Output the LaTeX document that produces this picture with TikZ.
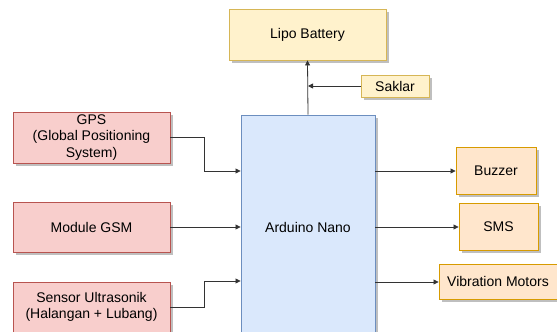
\documentclass[tikz,border=0pt]{standalone}
\usepackage{fontspec}
\setmainfont{Liberation Sans}
\usetikzlibrary{arrows.meta,shadows}
\definecolor{pinkfill}{HTML}{F8CECC}
\definecolor{pinkline}{HTML}{B85450}
\definecolor{orfill}{HTML}{FFE6CC}
\definecolor{orline}{HTML}{D79B00}
\definecolor{yelfill}{HTML}{FFF2CC}
\definecolor{yelline}{HTML}{D6B656}
\definecolor{bluefill}{HTML}{DAE8FC}
\definecolor{blueline}{HTML}{6C8EBF}
\tikzset{
  x=1pt,y=-1pt,
  box/.style={draw, line width=0.9pt, inner sep=0pt, align=center, font=\fontsize{14}{16.5}\selectfont,
    drop shadow={shadow xshift=2.5pt, shadow yshift=-2.5pt, opacity=0.25, fill=black}},
  inbox/.style={box, fill=pinkfill, draw=pinkline},
  outbox/.style={box, fill=orfill, draw=orline},
  yelbox/.style={box, fill=yelfill, draw=yelline},
  mcubox/.style={box, fill=bluefill, draw=blueline},
  conn/.style={draw=black!80, line width=0.8pt, -{Triangle[length=5pt,width=5pt]}},
}
\begin{document}
\begin{tikzpicture}
\useasboundingbox (0,0) rectangle (557,332);
\clip (0,0) rectangle (557,332);
\node[yelbox, minimum width=157pt, minimum height=51pt] (bat) at (307.5,34.5) {Lipo Battery};
\node[yelbox, minimum width=68pt, minimum height=22pt] (sak) at (395,86) {Saklar};
\node[mcubox, minimum width=134pt, minimum height=240pt, text depth=0pt] (ard) at (308,235) {};
\node[font=\fontsize{14}{16.5}\selectfont] (ardlbl) at (308,227) {Arduino Nano};
\node[inbox, minimum width=157pt, minimum height=51pt] (gps) at (91.5,137.5) {GPS\\(Global Positioning\\System)};
\node[inbox, minimum width=157pt, minimum height=50pt] (gsm) at (91.5,227) {Module GSM};
\node[inbox, minimum width=157pt, minimum height=56pt] (ultra) at (91.5,310) {};
\node[font=\fontsize{14}{16.5}\selectfont, align=center] (ultralbl) at (91.5,307) {Sensor Ultrasonik\\(Halangan + Lubang)};
\node[outbox, minimum width=80pt, minimum height=47pt] (buz) at (496,170.5) {Buzzer};
\node[outbox, minimum width=79pt, minimum height=47pt] (sms) at (498.5,226.5) {SMS};
\node[outbox, minimum width=118pt, minimum height=35pt] (vib) at (498,281.5) {Vibration Motors};
\coordinate (j) at (308,86);
\draw[conn] (ard.north) -- (bat.south);
\draw[conn] (sak.west) -- (j);
\draw[conn] (gps.east) -- (204,137.5) -- (204,171) -- (ard.west |- 0,171);
\draw[conn] (gsm.east) -- (ard.west |- gsm.east);
\draw[conn] (ultra.east |- 0,307) -- (204,307) -- (204,281) -- (ard.west |- 0,281);
\draw[conn] (ard.east |- 0,171) -- (buz.west |- 0,171);
\draw[conn] (ard.east |- 0,227) -- (sms.west |- 0,227);
\draw[conn] (ard.east |- 0,282) -- (vib.west |- 0,282);
\end{tikzpicture}
\end{document}
